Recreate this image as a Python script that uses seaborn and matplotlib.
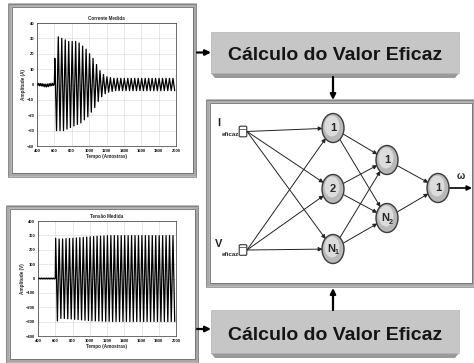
import matplotlib
matplotlib.use('Agg')
import matplotlib.pyplot as plt
import seaborn as sns
import pandas as pd
from matplotlib.patches import Rectangle, Ellipse, FancyArrowPatch, Polygon, FancyBboxPatch

# ---------------- data ----------------
x_ticks = [400, 600, 800, 1000, 1200, 1400, 1600, 1800, 2000]
cur_yticks = [-40, -30, -20, -10, 0, 10, 20, 30, 40]
vol_yticks = [-400, -300, -200, -100, 0, 100, 200, 300, 400]

# pre-event samples (400..600, every 10 samples)
cur_pre = [0.8, -0.6, 0.7, -0.8, 0.6, -0.9, 0.5, -1.2, 0.3, -1.5, 0.2,
           -1.6, 0.3, -1.4, 0.5, -1.0, 0.7, -0.8, 0.8, -0.6, 0.5]
vol_pre = [3, -3, 3, -3, 3, -3, 3, -3, 3, -3, 3, -3, 3, -3, 3, -3, 3, -3, 3, -3, 0]

# per-cycle peak / trough values after sample 600
cur_peak = [17, 31, 30, 29, 28, 28, 28, 27, 25, 23, 20, 17, 13, 9, 6.5, 5,
            4.5, 4, 4, 4, 4, 4, 4, 4, 4, 4, 4, 4, 4, 4, 4, 4, 4, 4, 4]
cur_trough = [-30, -30, -30, -29, -28, -27, -26, -25, -23, -21, -18, -15, -11, -8,
              -6, -5, -4.5, -4, -4, -4, -4, -4, -4, -4, -4, -4, -4, -4, -4, -4,
              -4, -4, -4, -4, -4]
vol_peak = [280, 275, 275, 277, 278, 280, 282, 284, 286, 288, 290, 292, 294, 295,
            296, 297, 298, 298, 298, 298, 298, 298, 298, 298, 298, 298, 298, 298,
            298, 298, 298, 298, 298, 298, 298]
vol_trough = [-295, -278, -278, -280, -282, -284, -286, -288, -290, -292, -294, -295,
              -296, -297, -298, -298, -299, -299, -299, -299, -299, -299, -299, -299,
              -299, -299, -299, -299, -299, -299, -299, -299, -299, -299, -299]

box_text = 'Cálculo do Valor Eficaz'

# ---------------- figure ----------------
sns.set_theme(style='white')
plt.rcParams['font.family'] = ['Liberation Sans', 'DejaVu Sans']

W, H = 474, 363
fig = plt.figure(figsize=(W / 100, H / 100), dpi=100, facecolor='white')
bg = fig.add_axes([0, 0, 1, 1])
bg.set_xlim(0, W)
bg.set_ylim(H, 0)
bg.axis('off')


def frac(x0, y0, x1, y1):
    return [x0 / W, 1 - y1 / H, (x1 - x0) / W, (y1 - y0) / H]


def build(pre, peaks, troughs):
    xs = [400 + 10 * i for i in range(len(pre))]
    ys = list(pre)
    for k, (p, t) in enumerate(zip(peaks, troughs)):
        xs += [605 + 40 * k, 625 + 40 * k]
        ys += [p, t]
    return pd.DataFrame({'t': xs, 'v': ys})


def frame(x0, y0, x1, y1):
    bg.add_patch(Rectangle((x0, y0), x1 - x0, y1 - y0, fc='white', ec='#a8a8a8', lw=2.6))
    bg.add_patch(Rectangle((x0 + 2, y0 + 2), x1 - x0 - 4, y1 - y0 - 4, fill=False, ec='#6a6a6a', lw=0.6))
    bg.add_patch(Rectangle((x0 - 1.5, y0 - 1.5), x1 - x0 + 3, y1 - y0 + 3, fill=False, ec='#7a7a7a', lw=0.5))


def style(ax, ylim, yticks, title, ylabel):
    ax.set_xlim(400, 2000)
    ax.set_ylim(*ylim)
    ax.set_xticks(x_ticks)
    ax.set_yticks(yticks)
    ax.grid(True, color='#d4d4d4', lw=0.4)
    ax.tick_params(labelsize=3, length=1, width=0.4, pad=1, colors='#111111')
    for lab in ax.get_xticklabels() + ax.get_yticklabels():
        lab.set_fontweight('bold')
    ax.set_title(title, fontsize=3.3, fontweight='bold', pad=2)
    ax.set_xlabel('Tempo (Amostras)', fontsize=3.3, fontweight='bold', labelpad=1)
    ax.set_ylabel(ylabel, fontsize=3.3, fontweight='bold', labelpad=1)
    for s in ax.spines.values():
        s.set_linewidth(0.5)
        s.set_color('#333333')


# plot frames
frame(10, 5, 195, 175)
frame(8, 207, 197, 361)

ax1 = fig.add_axes(frac(37, 23, 176, 146))
sns.lineplot(data=build(cur_pre, cur_peak, cur_trough), x='t', y='v', ax=ax1,
             color='black', lw=0.9, sort=False, estimator=None)
style(ax1, (-40, 40), cur_yticks, 'Corrente Medida', 'Amplitude (A)')

ax2 = fig.add_axes(frac(38, 221, 176, 336))
sns.lineplot(data=build(vol_pre, vol_peak, vol_trough), x='t', y='v', ax=ax2,
             color='black', lw=0.9, sort=False, estimator=None)
style(ax2, (-400, 400), vol_yticks, 'Tensão Medida', 'Amplitude (V)')


def arrow(x0, y0, x1, y1, lw=1.6, ms=8):
    bg.add_patch(FancyArrowPatch((x0, y0), (x1, y1), arrowstyle='-|>', mutation_scale=ms,
                                 lw=lw, color='black', shrinkA=0, shrinkB=0))


def calc_box(x0, y0, x1, y1, ty):
    bg.add_patch(Polygon([(x0, y1 - 4), (x1, y1 - 4), (x1 - 4, y1 + 1), (x0 + 4, y1 + 1)],
                         closed=True, fc='#999999', ec='none'))
    bg.add_patch(Rectangle((x0, y0), x1 - x0, y1 - y0 - 4, fc='#c6c6c6', ec='#b4b4b4', lw=0.5))
    bg.text((x0 + x1) / 2, ty, box_text, ha='center', va='center', fontsize=14,
            fontweight='bold', color='#151515')


calc_box(211, 32, 459, 77, 56)
calc_box(211, 310, 459, 357, 336)
arrow(197, 52.5, 211, 52.5)
arrow(197, 329, 211, 329)
arrow(333, 77, 333, 100)
arrow(333, 310, 333, 288)

# neural network frame
frame(208, 101, 474, 285)


def node(x, y):
    e = Ellipse((x, y), 22, 29, fc='#b8b8b8', ec='#3a3a3a', lw=1.0, zorder=5)
    bg.add_patch(e)
    bg.add_patch(Ellipse((x - 1, y - 2), 15, 21, fc='#dcdcdc', ec='none', zorder=5))
    return e


def label(x, y, main, sub=None):
    if sub is None:
        bg.text(x, y, main, ha='center', va='center', fontsize=8, fontweight='bold', zorder=6)
    else:
        bg.text(x - 1.5, y, main, ha='center', va='center', fontsize=8, fontweight='bold', zorder=6)
        bg.text(x + 3.5, y + 4, sub, ha='center', va='center', fontsize=5, fontweight='bold', zorder=6)


# input icons
inputs = [(243, 131.5), (243, 250)]
for (ix, iy) in inputs:
    bg.add_patch(FancyBboxPatch((ix - 3.5, iy - 5), 7, 10, boxstyle='round,pad=0.3,rounding_size=1.2',
                                fc='white', ec='#333333', lw=0.8, zorder=5))
    bg.plot([ix - 3.5, ix + 3.5], [iy - 3, iy - 3], color='#333333', lw=0.5, zorder=6)

bg.text(219, 123, 'I', ha='center', va='center', fontsize=8, fontweight='bold')
bg.text(230, 134, 'eficaz', ha='center', va='center', fontsize=4.5, fontweight='bold')
bg.text(219, 244, 'V', ha='center', va='center', fontsize=8, fontweight='bold')
bg.text(230, 254, 'eficaz', ha='center', va='center', fontsize=4.5, fontweight='bold')

h1_pos = [(333, 128), (333, 189), (333, 249)]
h2_pos = [(387, 160), (387, 218)]
out_pos = (438, 188)
h1 = [node(*p) for p in h1_pos]
h2 = [node(*p) for p in h2_pos]
out = node(*out_pos)
label(333, 128, '1')
label(333, 189, '2')
label(333, 249, 'N', '1')
label(387, 160, '1')
label(387, 218, 'N', '2')
label(438, 188, '1')


def link(a, b, pa=None, pb=None):
    bg.add_patch(FancyArrowPatch(a, b, patchA=pa, patchB=pb, arrowstyle='-|>', mutation_scale=6,
                                 lw=0.7, color='#222222', shrinkA=0, shrinkB=0, zorder=4))


for (ix, iy) in inputs:
    for p, e in zip(h1_pos, h1):
        link((ix + 4, iy), p, pb=e)
for p, e in zip(h1_pos, h1):
    for q, f in zip(h2_pos, h2):
        link(p, q, pa=e, pb=f)
for q, f in zip(h2_pos, h2):
    link(q, out_pos, pa=f, pb=out)

arrow(449, 188, 472, 188, lw=1.2, ms=7)
bg.text(461, 176, 'ω', ha='center', va='center', fontsize=7, fontweight='bold')

fig.savefig('out.png', dpi=100, facecolor='white')
